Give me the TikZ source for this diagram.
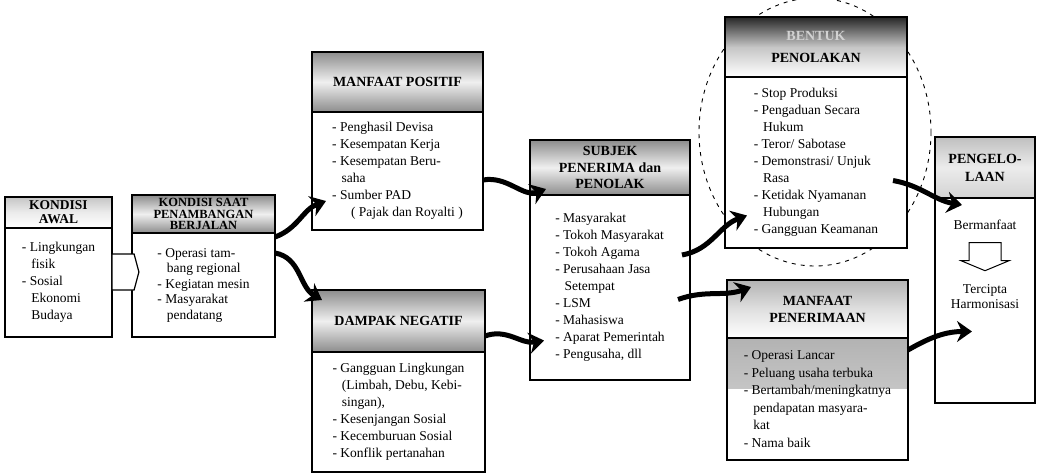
\documentclass[tikz,border=0pt]{standalone}
\usepackage{fontspec}
\setmainfont{Liberation Serif}
\newfontfamily\headfont{Liberation Serif}
\usepackage{tikz}
\usetikzlibrary{positioning}
\usetikzlibrary{arrows.meta}
\usetikzlibrary{shapes.arrows}
\colorlet{Shade}{black!45}
\tikzset{
  headbox/.style={draw, line width=1.2pt, anchor=north west, outer sep=0pt, inner sep=2pt,
    align=center, font=\headfont\bfseries\fontsize{14}{15}\selectfont,
    top color=Shade, bottom color=Shade, middle color=gray!12},
  bodybox/.style={draw, line width=1.2pt, fill=white, outer sep=0pt, inner sep=3pt,
    align=left, font=\fontsize{13.5}{17}\selectfont},
  fatarrow/.style={line width=5pt, -{Stealth[length=15pt,width=21pt]}},
}

\begin{document}
\begin{tikzpicture}[x=1pt, y=-1pt]
        \useasboundingbox (0,0) rectangle (1037,474);
        % dashed ring
        \draw[line width=0.9pt, dash pattern=on 4pt off 5pt] (815,132) ellipse [x radius=116, y radius=134];

        % headers
        \node[headbox, top color=gray!45, bottom color=white, middle color=gray!15,
              minimum width=107pt, minimum height=31pt, font=\headfont\bfseries\fontsize{13.5}{14}\selectfont] (awalH) at (5,197) {KONDISI\\AWAL};
        \node[headbox, minimum width=143pt, minimum height=38pt, inner sep=2.5pt,
              font=\headfont\bfseries\fontsize{12.5}{11.5}\selectfont] (saatH) at (132,195) {KONDISI SAAT\\PENAMBANGAN\\BERJALAN};
        \node[headbox, minimum width=171pt, minimum height=60pt] (positifH) at (312,52) {MANFAAT POSITIF};
        \node[headbox, minimum width=173pt, minimum height=62pt] (negatifH) at (312,290) {DAMPAK NEGATIF};
        \node[headbox, minimum width=160pt, minimum height=55pt,
              font=\headfont\bfseries\fontsize{14}{16.5}\selectfont] (subjekH) at (530,140) {SUBJEK\\PENERIMA dan\\PENOLAK};
        \node[headbox, top color=black!85, bottom color=white, middle color=gray!45,
              minimum width=182pt, minimum height=60pt,
              font=\headfont\bfseries\fontsize{14}{22}\selectfont] (tolakH) at (725,17) {\textcolor{gray!35}{BENTUK}\\PENOLAKAN};
        \node[headbox, top color=gray!60, bottom color=white, middle color=gray!25,
              minimum width=181pt, minimum height=58pt,
              font=\headfont\bfseries\fontsize{14}{17}\selectfont] (terimaH) at (727,280) {MANFAAT\\PENERIMAAN};
        \node[headbox, top color=gray!50, bottom color=gray!35, middle color=gray!15,
              minimum width=100pt, minimum height=61pt,
              font=\headfont\bfseries\fontsize{14}{18}\selectfont] (kelolaH) at (935,137) {PENGELO-\\LAAN};

        % bodies
        \node[bodybox, minimum width=107pt, minimum height=109pt, below=0pt of awalH] (awalB)
          {- Lingkungan\\\hspace*{0.7em}fisik\\- Sosial\\\hspace*{0.7em}Ekonomi\\\hspace*{0.7em}Budaya};
        \node[bodybox, minimum width=143pt, minimum height=104pt, below=0pt of saatH,
              font=\fontsize{13.5}{15.5}\selectfont] (saatB)
          {- Operasi tam-\\\hspace*{0.7em}bang regional\\- Kegiatan mesin\\- Masyarakat\\\hspace*{0.7em}pendatang};
        \node[bodybox, minimum width=171pt, minimum height=118pt, below=0pt of positifH] (positifB)
          {- Penghasil Devisa\\- Kesempatan Kerja\\- Kesempatan Beru-\\\hspace*{0.7em}saha\\- Sumber PAD\\\hspace*{1.4em}( Pajak dan Royalti )};
        \node[bodybox, minimum width=173pt, minimum height=120pt, below=0pt of negatifH] (negatifB)
          {- Gangguan Lingkungan\\\hspace*{0.7em}(Limbah, Debu, Kebi-\\\hspace*{0.7em}singan),\\- Kesenjangan Sosial\\- Kecemburuan Sosial\\- Konflik pertanahan};
        \node[bodybox, minimum width=160pt, minimum height=185pt, below=0pt of subjekH] (subjekB)
          {- Masyarakat\\- Tokoh Masyarakat\\- Tokoh Agama\\- Perusahaan Jasa\\\hspace*{0.7em}Setempat\\- LSM\\- Mahasiswa\\- Aparat Pemerintah\\- Pengusaha, dll};
        \node[bodybox, minimum width=182pt, minimum height=171pt, below=0pt of tolakH] (tolakB)
          {- Stop Produksi\\- Pengaduan Secara\\\hspace*{0.7em}Hukum\\- Teror/ Sabotase\\- Demonstrasi/ Unjuk\\\hspace*{0.7em}Rasa\\- Ketidak Nyamanan\\\hspace*{0.7em}Hubungan\\- Gangguan Keamanan};
        \node[bodybox, minimum width=181pt, minimum height=122pt, below=0pt of terimaH,
              font=\fontsize{13.5}{17.5}\selectfont,
              path picture={\shade[top color=gray!60, bottom color=gray!25]
                (path picture bounding box.north west) rectangle ([yshift=-50pt]path picture bounding box.north east);}] (terimaB)
          {- Operasi Lancar\\- Peluang usaha terbuka\\- Bertambah/meningkatnya\\\hspace*{0.7em}pendapatan masyara-\\\hspace*{0.7em}kat\\- Nama baik};
        \node[bodybox, minimum width=100pt, minimum height=205pt, below=0pt of kelolaH] (kelolaB) {};

        % inside pengelolaan
        \node[font=\fontsize{13.5}{14}\selectfont, below=18pt of kelolaB.north] (manfaat) {Bermanfaat};
        \coordinate[below=10pt of manfaat] (turun);
        \draw[line width=1pt, fill=white] ([xshift=-16pt]turun) -- ([xshift=16pt]turun) -- ([xshift=16pt, yshift=-18pt]turun)
          -- ([xshift=24pt, yshift=-18pt]turun) -- ([yshift=-28pt]turun) -- ([xshift=-24pt, yshift=-18pt]turun)
          -- ([xshift=-16pt, yshift=-18pt]turun) -- cycle;
        \node[font=\fontsize{13.5}{15}\selectfont, align=center, below=48pt of manfaat] (harmonis) {Tercipta\\Harmonisasi};

        % small link
        \node[single arrow, draw, line width=1.2pt, fill=white, minimum height=27pt, minimum width=36pt,
              single arrow head extend=0pt, single arrow tip angle=150] (pipa) at (123,272) {};

        % arrows
        \draw[fatarrow] ([yshift=-4pt]saatB.north east) to[out=20, in=200] ([xshift=14pt, yshift=-30pt]positifB.west);
        \draw[fatarrow] ([yshift=32pt]saatB.east) to[out=-10, in=150] ([xshift=10pt, yshift=-10pt]negatifH.north west);
        \draw[fatarrow] ([yshift=-9pt]positifB.east) to[out=10, in=200] ([xshift=16pt, yshift=6pt]subjekH.south west);
        \draw[fatarrow] ([yshift=-15pt]negatifH.east) to[out=20, in=190] ([xshift=14pt, yshift=-53pt]subjekB.west);
        \draw[fatarrow] ([xshift=-8pt, yshift=-60pt]subjekB.north east) to[out=10, in=200] ([xshift=22pt, yshift=-53pt]tolakB.west);
        \draw[fatarrow] ([xshift=-12pt, yshift=-12pt]subjekB.east) to[out=20, in=200] ([xshift=24pt, yshift=22pt]terimaH.west);
        \draw[fatarrow] ([xshift=-14pt, yshift=-18pt]tolakB.east) to[out=-10, in=170] ([xshift=27pt, yshift=-7pt]kelolaB.north west);
        \draw[fatarrow] ([yshift=49pt]terimaB.east) to[out=30, in=180] ([xshift=37pt, yshift=-31pt]kelolaB.west);
\end{tikzpicture}
\end{document}
